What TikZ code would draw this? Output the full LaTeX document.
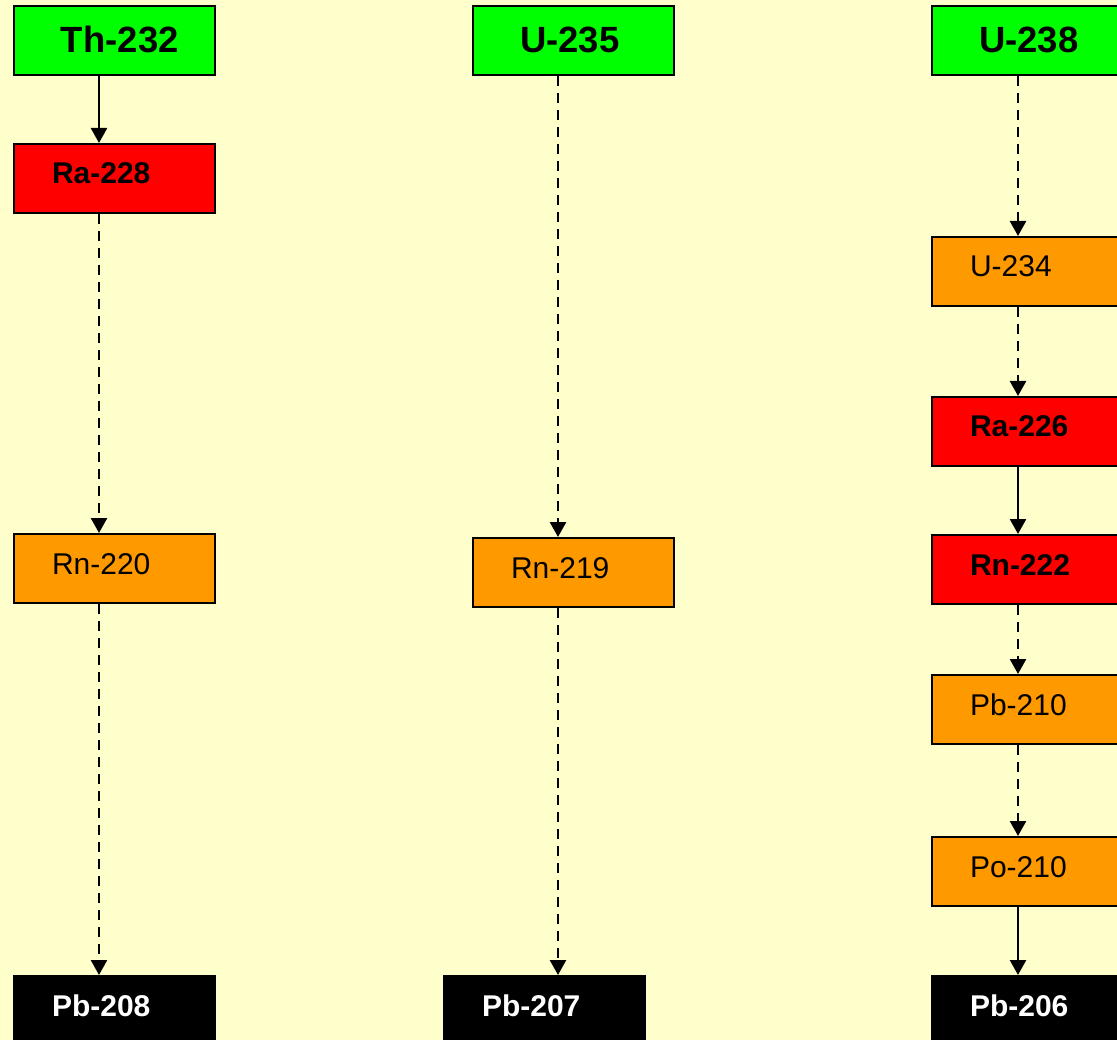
\documentclass[tikz,border=0pt]{standalone}
\usepackage{fontspec}
\setmainfont{Liberation Sans}
\usetikzlibrary{arrows.meta}
\definecolor{bgyellow}{HTML}{FFFFCC}
\definecolor{isogreen}{HTML}{00FF00}
\definecolor{isored}{HTML}{FF0000}
\definecolor{isoorange}{HTML}{FF9900}
\tikzset{
  box/.style={draw=black, line width=2pt, rectangle, anchor=north west,
    minimum width=201pt, minimum height=69pt, inner ysep=0pt, outer sep=1pt},
  headbox/.style={box, fill=isogreen, font=\fontsize{36.5}{40}\selectfont\bfseries,
    text height=30pt, text depth=5pt, align=left, inner xsep=0pt, text width=201pt,
    execute at begin node=\hspace*{47pt}},
  lowbox/.style={box, inner xsep=38pt, text width=125pt, align=left,
    text height=22pt, text depth=11pt, font=\fontsize{30}{34}\selectfont},
  redbox/.style={lowbox, fill=isored, font=\fontsize{30}{34}\selectfont\bfseries},
  orangebox/.style={lowbox, fill=isoorange},
  endbox/.style={lowbox, fill=black, text=white, font=\fontsize{30}{34}\selectfont\bfseries},
  decay/.style={line width=2.5pt, -{Triangle[length=15pt,width=16pt]}},
  slowdecay/.style={decay, dash pattern=on 10pt off 7pt},
}
\begin{document}
\begin{tikzpicture}[x=1pt,y=-1pt]
\fill[bgyellow] (0,0) rectangle (1117,1040);
\useasboundingbox (0,0) rectangle (1117,1040);
\clip (0,0) rectangle (1117,1040);
% column axes
\coordinate (colA) at (99,0);
\coordinate (colB) at (558,0);
\coordinate (colC) at (1018,0);
% thorium series
\node[headbox]   (th232) at (13,5)   {Th-232};
\node[redbox]    (ra228) at (13,143) {Ra-228};
\node[orangebox] (rn220) at (13,533) {Rn-220};
\node[endbox]    (pb208) at (13,975) {Pb-208};
% actinium series
\node[headbox]   (u235)  at (472,5)   {U-235};
\node[orangebox] (rn219) at (472,537) {Rn-219};
\node[endbox]    (pb207) at (443,975) {Pb-207};
% uranium series
\node[headbox]   (u238)  at (931,5)   {U-238};
\node[orangebox] (u234)  at (931,236) {U-234};
\node[redbox]    (ra226) at (931,396) {Ra-226};
\node[redbox]    (rn222) at (931,534) {Rn-222};
\node[orangebox] (pb210) at (931,674) {Pb-210};
\node[orangebox] (po210) at (931,836) {Po-210};
\node[endbox]    (pb206) at (931,975) {Pb-206};
% connectors
\draw[decay]     (colA |- th232.south) -- (colA |- ra228.north);
\draw[slowdecay] (colA |- ra228.south) -- (colA |- rn220.north);
\draw[slowdecay] (colA |- rn220.south) -- (colA |- pb208.north);
\draw[slowdecay] (colB |- u235.south)  -- (colB |- rn219.north);
\draw[slowdecay] (colB |- rn219.south) -- (colB |- pb207.north);
\draw[slowdecay] (colC |- u238.south)  -- (colC |- u234.north);
\draw[slowdecay] (colC |- u234.south)  -- (colC |- ra226.north);
\draw[decay]     (colC |- ra226.south) -- (colC |- rn222.north);
\draw[slowdecay] (colC |- rn222.south) -- (colC |- pb210.north);
\draw[slowdecay] (colC |- pb210.south) -- (colC |- po210.north);
\draw[decay]     (colC |- po210.south) -- (colC |- pb206.north);
\end{tikzpicture}
\end{document}
